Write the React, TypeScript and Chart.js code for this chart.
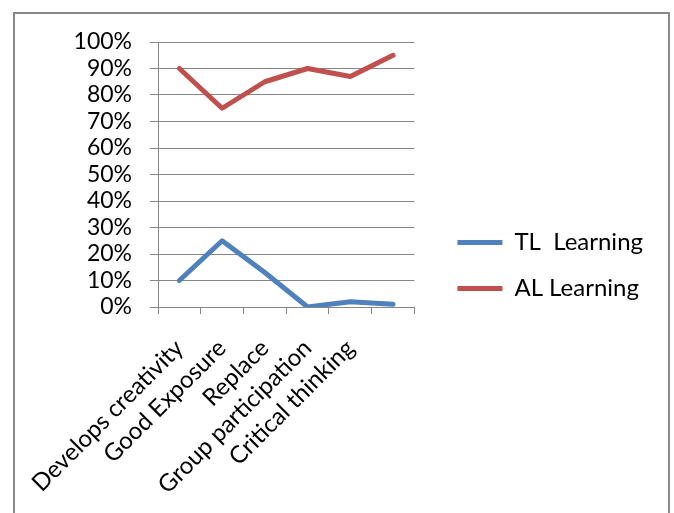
import React, { useEffect, useRef } from "react";
import { Chart, registerables } from "chart.js";

Chart.register(...registerables);

const categories = [
  "Develops creativity",
  "Good Exposure",
  "Replace",
  "Group participation",
  "Critical thinking",
  "",
];
const tlLearning = [10, 25, 13, 0, 2, 1];
const alLearning = [90, 75, 85, 90, 87, 95];
const seriesNames = ["TL  Learning", "AL Learning"];

const FONT = "Lato, 'Open Sans', sans-serif";
const GRID = "#868686";

export default function App() {
  const canvasRef = useRef<HTMLCanvasElement | null>(null);

  useEffect(() => {
    if (!canvasRef.current) return;
    const chart = new Chart(canvasRef.current, {
      type: "line",
      data: {
        labels: categories,
        datasets: [
          {
            label: seriesNames[0],
            data: tlLearning,
            borderColor: "#4F81BD",
            backgroundColor: "#4F81BD",
            borderWidth: 5,
            pointRadius: 0,
            borderJoinStyle: "round",
            borderCapStyle: "round",
            tension: 0,
          },
          {
            label: seriesNames[1],
            data: alLearning,
            borderColor: "#C0504D",
            backgroundColor: "#C0504D",
            borderWidth: 5,
            pointRadius: 0,
            borderJoinStyle: "round",
            borderCapStyle: "round",
            tension: 0,
          },
        ],
      },
      options: {
        animation: false,
        responsive: false,
        layout: { padding: { top: 4, right: 14, bottom: 0, left: 0 } },
        plugins: {
          legend: {
            position: "right",
            maxWidth: 260,
            labels: {
              font: { family: FONT, size: 24 },
              color: "#000",
              usePointStyle: true,
              pointStyle: "line",
              pointStyleWidth: 45,
              padding: 22,
            },
          },
          tooltip: { enabled: false },
        },
        scales: {
          x: {
            offset: true,
            grid: {
              offset: true,
              drawOnChartArea: false,
              drawTicks: true,
              tickLength: 7,
              color: GRID,
            },
            border: { display: true, color: GRID },
            ticks: {
              font: { family: FONT, size: 24 },
              color: "#000",
              maxRotation: 45,
              minRotation: 45,
              autoSkip: false,
              padding: 20,
            },
            afterFit: (scale) => {
              scale.height = 206;
              scale.paddingLeft = 0;
              scale.paddingRight = 0;
            },
          },
          y: {
            min: 0,
            max: 100,
            grid: { color: GRID, tickLength: 8 },
            border: { display: true, color: GRID },
            ticks: {
              stepSize: 10,
              autoSkip: false,
              font: { family: FONT, size: 23 },
              color: "#000",
              padding: 18,
              callback: (v) => `${v}%`,
            },
            afterFit: (scale) => {
              scale.width = 143;
              scale.paddingTop = 28;
              scale.paddingBottom = 0;
            },
          },
          // empty spacer between the plot and the legend
          gap: {
            type: "linear",
            position: "right",
            display: true,
            grid: { display: false },
            border: { display: false },
            ticks: { display: false },
            afterFit: (scale) => {
              scale.width = 21;
              scale.paddingTop = 0;
              scale.paddingBottom = 0;
            },
          },
        },
      },
    });
    return () => chart.destroy();
  }, []);

  return (
    <div
      style={{
        position: "absolute",
        left: 13,
        top: 12,
        width: 657,
        height: 501,
        boxSizing: "border-box",
        border: "2px solid #898989",
        borderBottom: "none",
        background: "#fff",
      }}
    >
      <canvas
        ref={canvasRef}
        width={652}
        height={499}
        style={{ display: "block", width: 652, height: 499 }}
      />
    </div>
  );
}
